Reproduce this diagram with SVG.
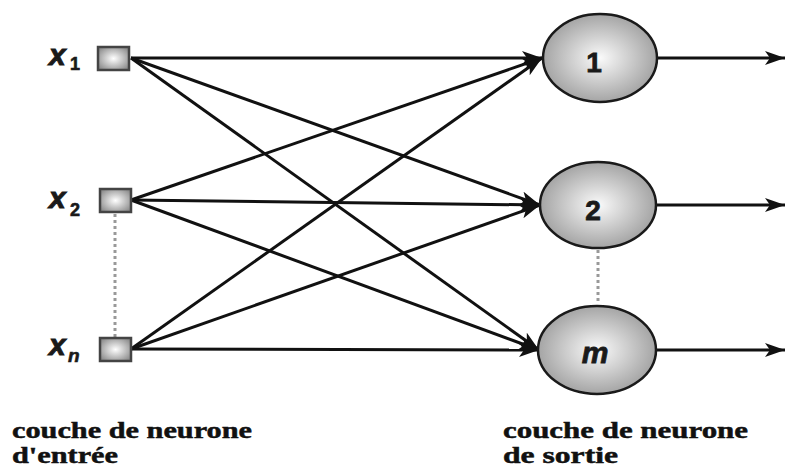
<svg xmlns="http://www.w3.org/2000/svg" width="785" height="468" viewBox="0 0 785 468">
<style>
.edge{stroke:#111;stroke-width:3;fill:none;marker-end:url(#ah)}
.dot{stroke:#999;stroke-width:3;stroke-dasharray:3 3;fill:none}
.sq{fill:url(#gs);stroke:#444;stroke-width:2.5}
.neu{fill:url(#gc);stroke:#1a1a1a;stroke-width:2.5}
.var{font-family:"Liberation Sans",Arial,sans-serif;font-weight:bold;font-style:italic;fill:#1a1a1a;stroke:#1a1a1a;stroke-width:1}
.sub{font-family:"Liberation Sans",Arial,sans-serif;font-weight:bold;fill:#1a1a1a;stroke:#1a1a1a;stroke-width:0.6}
.num{font-family:"Liberation Sans",Arial,sans-serif;font-weight:bold;fill:#1a1a1a;text-anchor:middle;stroke:#1a1a1a;stroke-width:0.8}
.cap{font-family:"Liberation Serif","Times New Roman",serif;font-weight:bold;font-size:24px;fill:#111;stroke:#111;stroke-width:0.5}
</style>
<defs>
<radialGradient id="gs" cx="0.5" cy="0.5" r="0.6">
<stop offset="0" stop-color="#ffffff"/>
<stop offset="1" stop-color="#8c8c8c"/>
</radialGradient>
<radialGradient id="gc" cx="0.5" cy="0.5" r="0.55">
<stop offset="0" stop-color="#fafafa"/>
<stop offset="1" stop-color="#9c9c9c"/>
</radialGradient>
<marker id="ah" markerUnits="userSpaceOnUse" markerWidth="22" markerHeight="14" refX="20" refY="7" orient="auto">
<path d="M0,0 L20,7 L0,14 L5,7 z" fill="#111"/>
</marker>
</defs>
<g id="connectors">
<line class="edge" x1="131" y1="58" x2="542" y2="58"/>
<line class="edge" x1="131" y1="58" x2="540" y2="205"/>
<line class="edge" x1="131" y1="58" x2="539" y2="350"/>
<line class="edge" x1="131" y1="200" x2="542" y2="58"/>
<line class="edge" x1="131" y1="200" x2="540" y2="205"/>
<line class="edge" x1="131" y1="200" x2="539" y2="350"/>
<line class="edge" x1="131" y1="349" x2="542" y2="58"/>
<line class="edge" x1="131" y1="349" x2="540" y2="205"/>
<line class="edge" x1="131" y1="349" x2="539" y2="350"/>
<line class="edge" x1="658" y1="58" x2="785" y2="58"/>
<line class="edge" x1="657" y1="205" x2="785" y2="205"/>
<line class="edge" x1="656" y1="350" x2="785" y2="350"/>
<line class="dot" x1="115" y1="214" x2="115" y2="337"/>
<line class="dot" x1="598" y1="250" x2="598" y2="304"/>
</g>
<g id="x1">
<rect class="sq" x="98" y="47" width="31" height="23"/>
<text class="var" x="49" y="65" font-size="30">x</text>
<text class="sub" x="70" y="70" font-size="18">1</text>
</g>
<g id="x2">
<rect class="sq" x="100" y="189" width="31" height="23"/>
<text class="var" x="49" y="208" font-size="30">x</text>
<text class="sub" x="70" y="216" font-size="18">2</text>
</g>
<g id="xn">
<rect class="sq" x="100" y="338" width="31" height="23"/>
<text class="var" x="49" y="355" font-size="30">x</text>
<text class="sub" x="68" y="362" font-size="19" font-style="italic">n</text>
</g>
<g id="n1">
<ellipse class="neu" cx="600" cy="58" rx="57" ry="44"/>
<text class="num" x="594" y="72" font-size="28">1</text>
</g>
<g id="n2">
<ellipse class="neu" cx="598" cy="205" rx="58" ry="43"/>
<text class="num" x="593" y="220" font-size="28">2</text>
</g>
<g id="nm">
<ellipse class="neu" cx="597" cy="350" rx="59" ry="44"/>
<text class="num" x="595" y="363" font-size="30" font-style="italic">m</text>
</g>
<g id="labels">
<text class="cap" x="12" y="438" textLength="240" lengthAdjust="spacingAndGlyphs">couche de neurone</text>
<text class="cap" x="12" y="463" textLength="106" lengthAdjust="spacingAndGlyphs">d'entrée</text>
<text class="cap" x="503" y="438" textLength="245" lengthAdjust="spacingAndGlyphs">couche de neurone</text>
<text class="cap" x="503" y="463" textLength="115" lengthAdjust="spacingAndGlyphs">de sortie</text>
</g>
</svg>
